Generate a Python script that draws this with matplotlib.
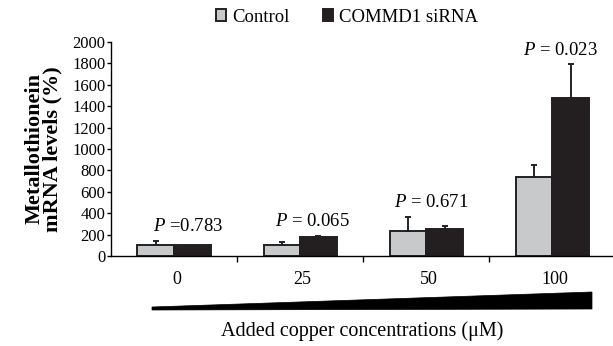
import numpy as np
import matplotlib.pyplot as plt
from matplotlib.patches import Polygon

plt.rcParams['font.family'] = ['Liberation Serif', 'DejaVu Serif']
plt.rcParams['mathtext.fontset'] = 'custom'
plt.rcParams['mathtext.it'] = 'Liberation Serif:italic'
plt.rcParams['mathtext.rm'] = 'Liberation Serif'

# data
categories = ["0", "25", "50", "100"]
control = [100, 100, 230, 740]
control_err = [45, 35, 135, 110]
sirna = [100, 175, 250, 1480]
sirna_err = [5, 15, 35, 310]
p_labels = ["=0.783", "= 0.065", "= 0.671", "= 0.023"]
p_shift = [0.11, 0.10, 0.04, 0.06]

fig = plt.figure(figsize=(6.13, 3.46), dpi=100)
ax = fig.add_axes([0.181, 0.260, 0.819, 0.619])

x = np.arange(len(categories))
w = 0.29
zeros = [0] * len(categories)
ekw = dict(ecolor="#222222", elinewidth=1.4, capsize=2.5, capthick=1.4)
ax.bar(x - w / 2, control, w, color="#c8c9ca", edgecolor="#222222", linewidth=1.4,
       yerr=[zeros, control_err], error_kw=ekw, label="Control", zorder=2)
ax.bar(x + w / 2, sirna, w, color="#231f20", edgecolor="#231f20", linewidth=1.4,
       yerr=[zeros, sirna_err], error_kw=ekw, label="COMMD1 siRNA", zorder=2)

# p-value labels
for i, lab in enumerate(p_labels):
    top = max(control[i] + control_err[i], sirna[i] + sirna_err[i])
    ax.text(i + p_shift[i], top + 90, "$P$ " + lab, ha="center", va="baseline", fontsize=13.5)

ax.set_xlim(-0.5, 3.48)
ax.set_ylim(0, 2000)
ax.set_yticks(np.arange(0, 2001, 200))
ax.set_xticks([0.5, 1.5, 2.5])
ax.set_xticklabels([])
ax.tick_params(axis="x", direction="out", length=4, width=1)
ax.tick_params(axis="y", direction="out", length=3, width=1, labelsize=12, pad=1)
for s in ["top", "right"]:
    ax.spines[s].set_visible(False)
ax.spines["left"].set_linewidth(1)
ax.spines["bottom"].set_linewidth(1)

# category labels under the axis
for i, c in enumerate(categories):
    ax.text(i + 0.02, -140, c, ha="center", va="top", fontsize=13)

ax.set_ylabel("Metallothionein\nmRNA levels (%)", fontsize=16, fontweight="bold",
              labelpad=7, linespacing=0.85)

# concentration wedge
wedge = Polygon([(152 / 613, 1 - 307 / 346), (592 / 613, 1 - 292 / 346),
                 (592 / 613, 1 - 309 / 346), (152 / 613, 1 - 310 / 346)],
                closed=True, transform=fig.transFigure, facecolor="black", edgecolor="black", lw=0.5)
fig.patches.append(wedge)

fig.text(362 / 613, 1 - 331 / 346, "Added copper concentrations (\u03bcM)", ha="center", va="center", fontsize=14.5)

leg = fig.legend(loc="center", bbox_to_anchor=(347 / 613, 1 - 17 / 346), ncol=2, frameon=False,
                 fontsize=13.5, handlelength=0.55, handleheight=0.55, handletextpad=0.3,
                 columnspacing=1.8, borderpad=0)

fig.savefig("out.png", dpi=100)
